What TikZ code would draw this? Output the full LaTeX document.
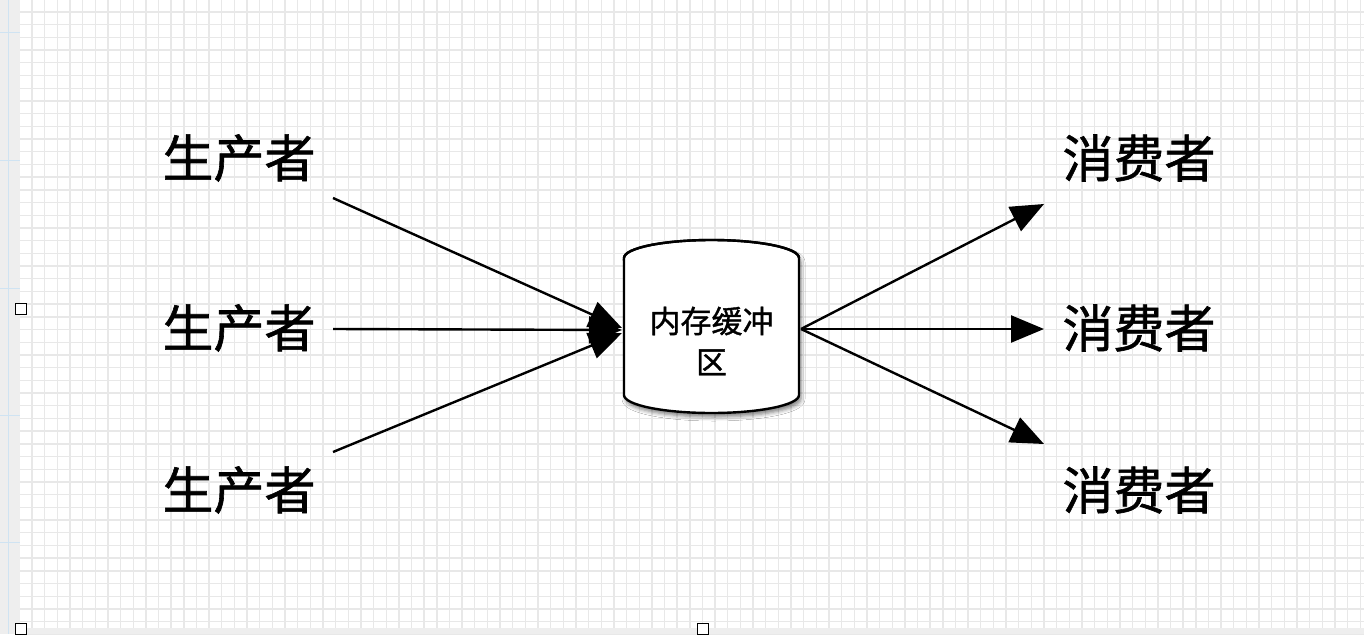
\documentclass[tikz,border=0pt]{standalone}
\usepackage{fontspec}
\newfontfamily\cjk{Noto Sans CJK SC}[FakeBold=1.2]
\usetikzlibrary{arrows.meta,shadows.blur}
\definecolor{gridc}{HTML}{E8E8E8}
\definecolor{stripc}{HTML}{EEEEEE}
\definecolor{stripb}{HTML}{CFE3F2}
\tikzset{
  gridline/.style={draw=gridc, line width=1.4pt},
  big/.style={font=\cjk\fontsize{51}{56}\selectfont, inner sep=0pt, text=black},
  conn/.style={draw=black, line width=2.4pt, -{Triangle[length=33pt,width=27pt,fill=black]}},
  handle/.style={draw=black, fill=white, line width=1pt, minimum size=11pt, inner sep=0pt},
}
\begin{document}
\begin{tikzpicture}[x=1pt,y=-1pt]
\useasboundingbox (0,0) rectangle (1364,634);
\fill[white] (0,0) rectangle (1364,634);
% grid
\foreach \i in {0,...,106} {\draw[gridline] ({19.35+12.65*\i},0) -- ({19.35+12.65*\i},628);}
\foreach \j in {0,...,49} {\draw[gridline] (20,{12+12.7*\j}) -- (1364,{12+12.7*\j});}
% left strip and bottom strip
\fill[stripc] (0,0) rectangle (20,634);
\fill[stripc] (0,628) rectangle (1364,634);
\foreach \j in {33,160,288,415,542} {\draw[stripb, line width=1pt] (0,\j) -- (20,\j);}
\foreach \i in {8} {\draw[stripb, line width=1pt] (\i,0) -- (\i,634);}
% texts
\node[big] (p1) at (239,158) {生产者};
\node[big] (p2) at (239,328) {生产者};
\node[big] (p3) at (239,490) {生产者};
\node[big] (c1) at (1139,158) {消费者};
\node[big] (c2) at (1139,328) {消费者};
\node[big] (c3) at (1139,490) {消费者};
% cylinder
\path[fill=white, draw=black, line width=2.4pt, blur shadow={shadow xshift=2pt, shadow yshift=-4pt, shadow blur radius=4pt, shadow opacity=50}]
  (624,258) -- (624,395) arc[start angle=180, end angle=360, x radius=87.5, y radius=-18] -- (799,258)
  arc[start angle=0, end angle=180, x radius=87.5, y radius=-18] -- cycle;
\draw[line width=2.4pt] (624,258) arc[start angle=180, end angle=360, x radius=87.5, y radius=18];
\node[font=\cjk\fontsize{31}{41}\selectfont, align=center, inner sep=0pt] (buf) at (711.5,341) {内存缓冲\\区};
\coordinate (inT) at (622,328);
\coordinate (inM) at (622,330);
\coordinate (inB) at (622,333);
\coordinate (out) at (801,329);
% connectors
\coordinate (a1) at (333,198);
\coordinate (a2) at (333,329);
\coordinate (a3) at (333,452);
\coordinate (b1) at (1044,204);
\coordinate (b2) at (1044,329);
\coordinate (b3) at (1044,444);
\draw[conn] (a1) -- (inT);
\draw[conn] (a2) -- (inM);
\draw[conn] (a3) -- (inB);
\draw[conn] (out) -- (b1);
\draw[conn] (out) -- (b2);
\draw[conn] (out) -- (b3);
% handles
\node[handle] (h1) at (20.5,308.5) {};
\node[handle] (h2) at (20.5,628.5) {};
\node[handle] (h3) at (703,628.5) {};
\end{tikzpicture}
\end{document}
